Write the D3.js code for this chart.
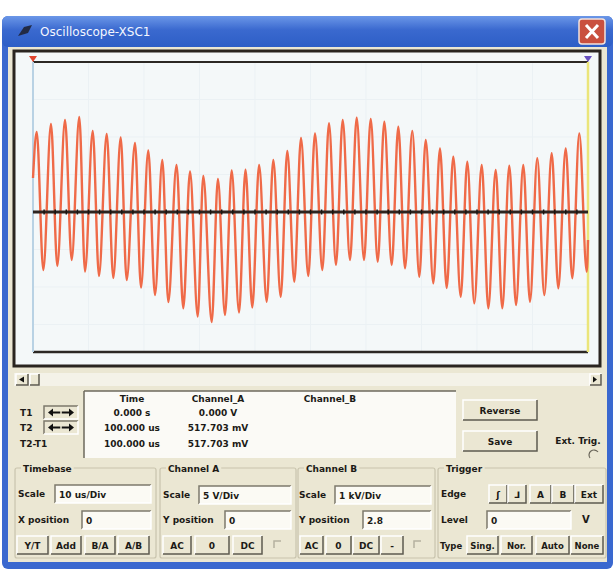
<!DOCTYPE html>
<html>
<head>
<meta charset="utf-8">
<script src="https://cdn.jsdelivr.net/npm/d3@7/dist/d3.min.js"></script>
<style>
  body { margin: 0; background: #ffffff; }
  svg text { font-family: "DejaVu Sans", Arial, sans-serif; font-weight: bold; }
</style>
</head>
<body>
<svg id="scope" width="615" height="569"></svg>
<script>
// time of each turning point of channel A (us) and its voltage (V)
var tA = [0, 0.67, 1.86, 3.24, 4.38, 5.77, 6.97, 8.34, 9.37, 10.76, 11.89, 13.28, 14.47, 15.80, 16.88,
  18.38, 19.46, 20.77, 21.98, 23.30, 24.38, 25.86, 27.08, 28.29, 29.68, 30.68, 32.20, 33.32, 34.59,
  35.80, 37.12, 38.29, 39.51, 40.74, 42.11, 43.30, 44.63, 45.82, 47.08, 48.29, 49.60, 50.81, 52.13,
  53.33, 54.59, 55.80, 57.12, 58.32, 59.64, 60.85, 62.11, 63.30, 64.63, 65.82, 67.03, 68.34, 69.60,
  70.76, 72.13, 73.33, 74.54, 75.73, 77.06, 78.25, 79.51, 80.85, 82.04, 83.37, 84.56, 85.82, 87.03,
  88.34, 89.55, 90.86, 92.13, 93.46, 94.65, 95.98, 97.17, 98.43, 99.77, 100];
var vA = [4.53, 10.67, -7.73, 11.73, -7.2, 12.27, -6.4, 12.67, -7.93, 10.8, -8.53, 10.4, -8.8, 9.93, -9.07,
  9.2, -10.07, 8.2, -11.07, 6.93, -12.0, 6.27, -12.84, 5.4, -13.93, 4.8, -14.67, 4.4, -13.73,
  5.53, -13.4, 5.64, -12.73, 6.27, -11.96, 6.93, -11.29, 8.13, -9.29, 9.87, -8.53, 10.49, -7.73,
  11.83, -7.07, 12.27, -6.4, 12.57, -6.4, 12.4, -6.63, 12.04, -7.07, 11.37, -7.51, 10.8, -8.63,
  9.6, -9.51, 8.49, -10.13, 7.37, -11.29, 6.71, -12.17, 6.27, -12.84, 5.6, -12.84, 6.17, -12.4,
  6.27, -11.96, 7.16, -11.07, 7.83, -10.17, 8.49, -8.84, 10.49, -7.96, -3.73];
// channel B sits flat at 0 V
var tB = [0, 100];
var vB = [0, 0];

var readHeads = ["Time", "Channel_A", "Channel_B"];
var readRows = ["T1", "T2", "T2-T1"];
var readTime = ["0.000 s", "100.000 us", "100.000 us"];
var readChA = ["0.000 V", "517.703 mV", "517.703 mV"];

var svg = d3.select("#scope");
var beige = "#ebe7d3", blue = "#3a68cf";

// window frame
var grad = svg.append("defs").append("linearGradient").attr("id", "tb")
  .attr("x1", 0).attr("y1", 0).attr("x2", 0).attr("y2", 1);
grad.append("stop").attr("offset", "0%").attr("stop-color", "#6b97e8");
grad.append("stop").attr("offset", "45%").attr("stop-color", "#3a69cf");
grad.append("stop").attr("offset", "100%").attr("stop-color", "#2d5ec6");

svg.append("rect").attr("x", 2).attr("y", 16).attr("width", 611).attr("height", 553)
  .attr("rx", 6).attr("fill", blue);
svg.append("rect").attr("x", 2).attr("y", 16).attr("width", 611).attr("height", 31)
  .attr("rx", 6).attr("fill", "url(#tb)");
svg.append("rect").attr("x", 8).attr("y", 47).attr("width", 599).attr("height", 515).attr("fill", beige);

// title bar bits
svg.append("path").attr("d", "M18,36 L24,27 L32,25 L28,33 Z").attr("fill", "#222a44");
svg.append("text").attr("x", 40).attr("y", 36).attr("fill", "#f4f6ff")
  .style("font-size", "12px").style("font-weight", "normal").text("Oscilloscope-XSC1");
svg.append("rect").attr("x", 579).attr("y", 19).attr("width", 26).attr("height", 25).attr("rx", 3)
  .attr("fill", "#c9503f").attr("stroke", "#f3e2dc").attr("stroke-width", 1.5);
svg.append("path").attr("d", "M586,25 L598,38 M598,25 L586,38")
  .attr("stroke", "#ffffff").attr("stroke-width", 3);

// screen
var sLeft = 33, sRight = 588, sTop = 62, sBottom = 362, sLine = 352;
var x = d3.scaleLinear().domain([0, 100]).range([sLeft, sRight]);
var y = d3.scaleLinear().domain([-20, 20]).range([sBottom, sTop]);

svg.append("rect").attr("x", 14).attr("y", 51).attr("width", 586).attr("height", 315)
  .attr("fill", "#f4f8f9").attr("stroke", "#2a2520").attr("stroke-width", 3);

var grid = svg.append("g").attr("stroke", "#ebf1f4").attr("stroke-width", 1);
grid.selectAll(".gx").data(d3.range(10, 100, 10)).enter().append("line")
  .attr("x1", d => x(d)).attr("x2", d => x(d)).attr("y1", sTop).attr("y2", sLine);
grid.selectAll(".gy").data(d3.range(-15, 20, 5)).enter().append("line")
  .attr("x1", sLeft).attr("x2", sRight).attr("y1", d => y(d)).attr("y2", d => y(d));

svg.append("line").attr("x1", sLeft).attr("x2", sRight).attr("y1", sTop).attr("y2", sTop)
  .attr("stroke", "#2c2824").attr("stroke-width", 2);
svg.append("line").attr("x1", sLeft).attr("x2", sRight).attr("y1", sLine).attr("y2", sLine)
  .attr("stroke", "#2c2824").attr("stroke-width", 2.5);

// cursors
svg.append("line").attr("x1", sLeft).attr("x2", sLeft).attr("y1", sTop).attr("y2", sLine)
  .attr("stroke", "#b9d2e4").attr("stroke-width", 2);
svg.append("line").attr("x1", sRight).attr("x2", sRight).attr("y1", sTop).attr("y2", sLine)
  .attr("stroke", "#ebe57a").attr("stroke-width", 2.5);
svg.append("path").attr("d", `M${sLeft - 4},${sTop - 6} L${sLeft + 4},${sTop - 6} L${sLeft},${sTop} Z`).attr("fill", "#e0452e");
svg.append("path").attr("d", `M${sRight - 4},${sTop - 6} L${sRight + 4},${sTop - 6} L${sRight},${sTop} Z`).attr("fill", "#6750c0");

// channel A trace
var line = d3.line().x(d => x(d[0])).y(d => y(d[1])).curve(d3.curveMonotoneX);
svg.append("path").datum(tA.map((t, i) => [t, vA[i]]))
  .attr("d", line).attr("fill", "none").attr("stroke", "#ef6a48").attr("stroke-width", 2.4);

// channel B trace with centre ticks
svg.append("path").datum(tB.map((t, i) => [t, vB[i]]))
  .attr("d", d3.line().x(d => x(d[0])).y(d => y(d[1]))).attr("fill", "none")
  .attr("stroke", "#2e2420").attr("stroke-width", 3);
svg.append("g").selectAll("line").data(d3.range(2, 100, 2)).enter().append("line")
  .attr("x1", d => x(d)).attr("x2", d => x(d)).attr("y1", y(0) - 2.5).attr("y2", y(0) + 2.5)
  .attr("stroke", "#1a1410").attr("stroke-width", 1.5);

// 3D box helper
function bevel(g, bx, by, w, h, raised) {
  var lt = raised ? "#ffffff" : "#7d7a6c", rb = raised ? "#5e5b50" : "#ffffff";
  g.append("path").attr("d", `M${bx},${by + h} L${bx},${by} L${bx + w},${by}`)
    .attr("fill", "none").attr("stroke", lt).attr("stroke-width", 1.5);
  g.append("path").attr("d", `M${bx + w},${by} L${bx + w},${by + h} L${bx},${by + h}`)
    .attr("fill", "none").attr("stroke", rb).attr("stroke-width", 1.5);
}
function label(g, tx, ty, s, size, anchor) {
  return g.append("text").attr("x", tx).attr("y", ty).attr("fill", "#1c1a16")
    .attr("text-anchor", anchor || "start").style("font-size", (size || 9) + "px").text(s);
}
function button(g, bx, by, w, h, s, size) {
  g.append("rect").attr("x", bx).attr("y", by).attr("width", w).attr("height", h).attr("fill", beige);
  bevel(g, bx, by, w, h, true);
  label(g, bx + w / 2, by + h / 2 + 3.5, s, size || 9, "middle");
}
function field(g, bx, by, w, h, s) {
  g.append("rect").attr("x", bx).attr("y", by).attr("width", w).attr("height", h).attr("fill", "#fbfaf4");
  bevel(g, bx, by, w, h, false);
  label(g, bx + 4, by + h / 2 + 3.5, s, 9);
}

var ui = svg.append("g");

// scroll bar
ui.append("rect").attr("x", 14).attr("y", 373).attr("width", 588).attr("height", 13).attr("fill", "#f4f2e8");
button(ui, 16, 374, 12, 11, "");
ui.append("path").attr("d", "M19,379.5 L24,376.5 L24,382.5 Z").attr("fill", "#111");
button(ui, 30, 374, 9, 11, "");
button(ui, 590, 374, 11, 11, "");
ui.append("path").attr("d", "M597,379.5 L593,376.5 L593,382.5 Z").attr("fill", "#111");

// readout table
ui.append("rect").attr("x", 84).attr("y", 391).attr("width", 372).attr("height", 67).attr("fill", "#fbfaf6");
ui.append("line").attr("x1", 84).attr("x2", 456).attr("y1", 391).attr("y2", 391).attr("stroke", "#6c685c").attr("stroke-width", 1.5);
ui.append("line").attr("x1", 84).attr("x2", 84).attr("y1", 391).attr("y2", 458).attr("stroke", "#6c685c").attr("stroke-width", 1.5);
var colX = [132, 218, 330];
readHeads.forEach((h, i) => label(ui, colX[i], 402, h, 9, "middle"));
var rowY = [416, 431, 447];
readRows.forEach((r, i) => {
  label(ui, 20, rowY[i], r, 9);
  if (i < 2) {
    ui.append("rect").attr("x", 44).attr("y", rowY[i] - 10).attr("width", 34).attr("height", 13).attr("fill", beige);
    bevel(ui, 44, rowY[i] - 10, 34, 13, false);
    var cy = rowY[i] - 3.5;
    ui.append("path")
      .attr("d", `M48,${cy} L53,${cy - 4} L53,${cy + 4} Z M74,${cy} L69,${cy - 4} L69,${cy + 4} Z`)
      .attr("fill", "#111");
    ui.append("line").attr("x1", 52).attr("x2", 70).attr("y1", cy).attr("y2", cy)
      .attr("stroke", "#111").attr("stroke-width", 2);
    ui.append("line").attr("x1", 61).attr("x2", 61).attr("y1", cy - 4).attr("y2", cy + 4)
      .attr("stroke", beige).attr("stroke-width", 1.5);
  }
  label(ui, 132, rowY[i], readTime[i], 9, "middle");
  label(ui, 218, rowY[i], readChA[i], 9, "middle");
});

button(ui, 463, 400, 74, 20, "Reverse");
button(ui, 463, 431, 74, 20, "Save");
label(ui, 578, 444, "Ext. Trig.", 9, "middle");
ui.append("path").attr("d", "M590,458 A5,5 0 0 1 598,452").attr("fill", "none").attr("stroke", "#6a665a").attr("stroke-width", 1.2);

// groups
function group(gx, gy, w, h, title) {
  ui.append("rect").attr("x", gx).attr("y", gy).attr("width", w).attr("height", h)
    .attr("fill", "none").attr("stroke", "#c9c4ae").attr("stroke-width", 1.2).attr("rx", 2);
  var t = label(ui, gx + 8, gy + 4, title, 9);
  var bb = t.node().getBBox();
  ui.insert("rect", "text:last-child").attr("x", bb.x - 2).attr("y", bb.y).attr("width", bb.width + 4)
    .attr("height", bb.height).attr("fill", beige);
}
group(15, 468, 141, 90, "Timebase");
group(160, 468, 136, 90, "Channel A");
group(298, 468, 137, 90, "Channel B");
group(438, 468, 168, 90, "Trigger");

// timebase
label(ui, 18, 497, "Scale");
field(ui, 55, 485, 96, 18, "10 us/Div");
label(ui, 18, 523, "X position");
field(ui, 82, 511, 69, 18, "0");
button(ui, 17, 536, 31, 18, "Y/T");
button(ui, 51, 536, 30, 18, "Add");
button(ui, 85, 536, 30, 18, "B/A");
button(ui, 118, 536, 31, 18, "A/B");

// channel A
label(ui, 163, 498, "Scale");
field(ui, 199, 486, 92, 18, "5  V/Div");
label(ui, 163, 523, "Y position");
field(ui, 225, 511, 66, 18, "0");
button(ui, 163, 536, 28, 18, "AC");
button(ui, 195, 536, 34, 18, "0");
button(ui, 233, 536, 29, 18, "DC");
ui.append("path").attr("d", "M274,548 L274,541 L281,541").attr("fill", "none").attr("stroke", "#b5b1a0").attr("stroke-width", 1.5);

// channel B
label(ui, 299, 498, "Scale");
field(ui, 335, 486, 96, 18, "1 kV/Div");
label(ui, 299, 523, "Y position");
field(ui, 363, 511, 68, 18, "2.8");
button(ui, 300, 536, 23, 18, "AC");
button(ui, 326, 536, 25, 18, "0");
button(ui, 353, 536, 26, 18, "DC");
button(ui, 381, 536, 22, 18, "-");
ui.append("path").attr("d", "M414,548 L414,541 L421,541").attr("fill", "none").attr("stroke", "#b5b1a0").attr("stroke-width", 1.5);

// trigger
label(ui, 441, 497, "Edge");
button(ui, 489, 485, 18, 18, "\u0283");
button(ui, 508, 485, 18, 18, "\u2143");
button(ui, 530, 485, 21, 18, "A");
button(ui, 552, 485, 22, 18, "B");
button(ui, 575, 485, 28, 18, "Ext");
label(ui, 441, 523, "Level");
field(ui, 487, 511, 84, 18, "0");
label(ui, 582, 523, "V", 10);
label(ui, 440, 549, "Type", 8.5);
button(ui, 467, 536, 31, 18, "Sing.", 8.5);
button(ui, 501, 536, 31, 18, "Nor.", 8.5);
button(ui, 536, 536, 33, 18, "Auto", 8.5);
button(ui, 571, 536, 32, 18, "None", 8.5);
</script>
</body>
</html>
